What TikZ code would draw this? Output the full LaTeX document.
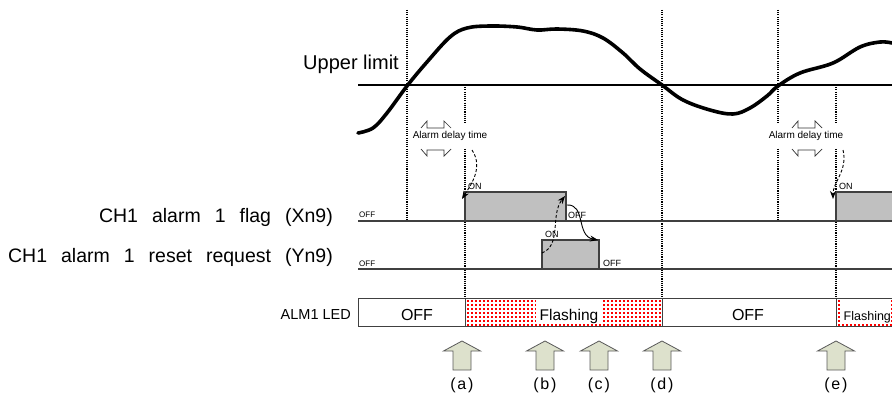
\documentclass[tikz,border=0pt]{standalone}
\usepackage{fontspec}
\setmainfont{Liberation Sans}
\usetikzlibrary{arrows.meta}
\definecolor{sigc}{HTML}{404040}
\definecolor{sigfill}{HTML}{C0C0C0}
\definecolor{arrfill}{HTML}{DDE1CC}
\definecolor{arrdraw}{HTML}{5A5A5A}
\definecolor{dotred}{HTML}{FF0000}
\newcommand\wsp{\hspace*{14pt}}
\newcommand\fs[1]{\fontsize{#1}{#1}\selectfont}
\newcommand\plab[1]{(\hspace{1.5pt}#1\hspace{2pt})}
\begin{document}
\begin{tikzpicture}[x=1pt,y=-1pt,
  dotv/.style={line width=1.1pt, dash pattern=on 1.1pt off 1.1pt},
  sig/.style={draw=sigc, line width=1.3pt},
  pv/.style={line width=3.6pt, line join=round, line cap=round},
  lbl/.style={inner sep=0pt, font=\fs{19.5}},
  onoff/.style={inner sep=0pt, font=\fs{9}},
  dly/.style={inner xsep=1pt, minimum height=25pt, font=\fs{10}, fill=white},
  dlyarr/.style={line width=0.7pt, draw=black!80},
  ledtxt/.style={inner sep=0pt, font=\fs{16}},
  bigarr/.style={fill=arrfill, draw=arrdraw, line width=0.8pt},
  arrlabel/.style={font=\fs{16}, inner sep=0pt},
  reddot/.style={fill=dotred},
  conn/.style={line width=0.9pt, -{Stealth[length=8pt,width=6pt]}},
  dconn/.style={conn, dash pattern=on 3pt off 2pt},
  uparr/.pic={\draw[bigarr] (0,0) -- (18.5,10) -- (9,10) -- (9,29) -- (-9,29) -- (-9,10) -- (-18.5,10) -- cycle;}
]
\useasboundingbox (0,0) rectangle (892,396);

% dotted verticals
\draw[dotv] (407,10) -- (407,221);
\draw[dotv] (465,85) -- (465,298);
\draw[dotv] (662,10) -- (662,298);
\draw[dotv] (778,10) -- (778,221);
\draw[dotv] (836,85) -- (836,298);

% upper limit
\draw[line width=1.3pt] (358,85) -- (892,85);
\node[inner sep=0pt, font=\fs{20}, anchor=base east] (ul) at (399,70) {Upper limit};

% process value
\draw[pv] plot[smooth, tension=0.6] coordinates {(358,133) (373,128) (387,113) (407,86) (427,62) (450,37) (467,28) (490,26) (517,27) (537,30) (557,29) (583,31) (603,38) (623,53) (640,69) (662,85) (683,100) (710,110) (733,114) (750,108) (767,96) (778,86) (800,73) (833,63) (860,47) (880,42) (892,43)};

% alarm delay time
\node[dly] (d1) at (450,135.5) {Alarm delay time};
\node[dly] (d2) at (806,135.5) {Alarm delay time};
\draw[dlyarr] (421,128) -- (427,121) -- (427,128) -- (444,128) -- (444,121) -- (451,128);
\draw[dlyarr] (421,149) -- (427,156) -- (427,150) -- (444,150) -- (444,156) -- (451,149);
\draw[dlyarr] (792,128) -- (798,121) -- (798,128) -- (815,128) -- (815,121) -- (822,128);
\draw[dlyarr] (792,149) -- (798,156) -- (798,150) -- (815,150) -- (815,156) -- (822,149);

% signal labels
\node[lbl, anchor=base east] (lf) at (333,222) {CH1\wsp alarm\wsp 1\wsp flag\wsp (Xn9)};
\node[lbl, anchor=base east] (lr) at (333,262) {CH1\wsp alarm\wsp 1\wsp reset\wsp request\wsp (Yn9)};
\node[inner sep=0pt, font=\fs{14.5}, anchor=base east] (ll) at (351,319) {ALM1 LED};

% flag signal
\fill[sigfill] (465,192) rectangle (566,221);
\fill[sigfill] (836,192) rectangle (892,221);
\draw[sig] (358,221) -- (892,221);
\draw[sig] (465,221) -- (465,192) -- (566,192) -- (566,221);
\draw[sig] (836,221) -- (836,192) -- (892,192);

% reset request signal
\fill[sigfill] (542,240) rectangle (599,269);
\draw[sig] (358,269) -- (892,269);
\draw[sig] (542,269) -- (542,240) -- (599,240) -- (599,269);

% small on/off labels
\node[onoff, font=\fs{8}, anchor=base west] (off1) at (359,217) {OFF};
\node[onoff, font=\fs{8}, anchor=base west] (off2) at (359,266) {OFF};
\node[onoff, anchor=base west] (on1) at (468,189) {ON};
\node[onoff, anchor=base west] (off3) at (568,218) {OFF};
\node[onoff, anchor=base west] (on2) at (545,237) {ON};
\node[onoff, anchor=base west] (off4) at (603,266) {OFF};
\node[onoff, anchor=base west] (on3) at (839,189) {ON};

% connectors
\coordinate (c1s) at (472,150); \coordinate (c1e) at (462,199);
\coordinate (c2s) at (843,150); \coordinate (c2e) at (833,199);
\coordinate (c3s) at (542,253); \coordinate (c3e) at (565,196);
\coordinate (c4s) at (567,205); \coordinate (c4e) at (598,240);
\draw[dconn] (c1s) .. controls (484,168) and (470,186) .. (c1e);
\draw[dconn] (c2s) .. controls (848,170) and (833,182) .. (c2e);
\draw[dconn] (c3s) .. controls (562,245) and (550,215) .. (c3e);
\draw[conn] (c4s) .. controls (586,204) and (576,236) .. (c4e);

% LED row: red dotted fill
\foreach \i in {0,...,48} \foreach \j in {0,...,6} \fill[reddot] (467+\i*4,300+\j*4) rectangle ++(2.2,2.2);
\foreach \i in {0,...,13} \foreach \j in {0,...,6} \fill[reddot] (838+\i*4,300+\j*4) rectangle ++(2.2,2.2);
\draw[sig, line width=1pt] (892,298) -- (358,298) -- (358,326) -- (892,326);
\draw[sig, line width=1pt] (465,298) -- (465,326) (662,298) -- (662,326) (836,298) -- (836,326);
\node[fill=white, minimum width=66pt, minimum height=24pt, inner sep=0pt] (fb1) at (569,312) {};
\node[fill=white, minimum width=50pt, minimum height=24pt, inner sep=0pt, anchor=west] (fb2) at (841,312) {};
\node[ledtxt, anchor=base] (led1) at (417,320) {OFF};
\node[ledtxt, font=\fs{15.5}, anchor=base] (led2) at (569,320) {Flashing};
\node[ledtxt, anchor=base] (led3) at (748,320) {OFF};
\node[ledtxt, font=\fs{12.5}, anchor=base west] (led4) at (843.5,320) {Flashing};

% event arrows
\pic at (462,341) {uparr};
\pic at (545,341) {uparr};
\pic at (599,341) {uparr};
\pic at (662,341) {uparr};
\pic at (836,341) {uparr};
\node[arrlabel] (la) at (462,385) {\plab{a}};
\node[arrlabel] (lb) at (545,385) {\plab{b}};
\node[arrlabel] (lc) at (599,385) {\plab{c}};
\node[arrlabel] (ld) at (662,385) {\plab{d}};
\node[arrlabel] (le) at (836,385) {\plab{e}};
\end{tikzpicture}
\end{document}
